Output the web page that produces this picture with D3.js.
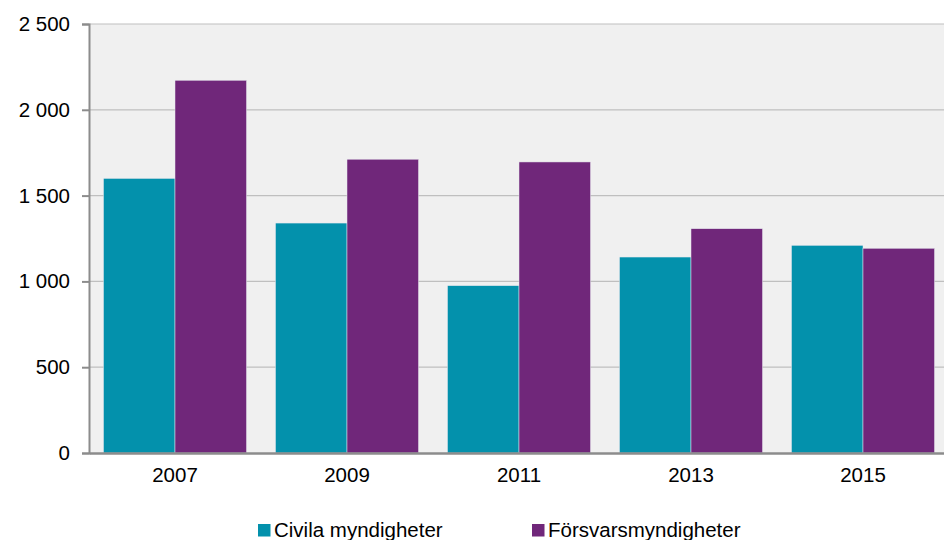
<!DOCTYPE html>
<html><head><meta charset="utf-8">
<script src="https://cdn.jsdelivr.net/npm/d3@7"></script>
<style>body{margin:0;background:#fff}svg{display:block}</style>
</head><body>
<svg id="c" width="944" height="540"></svg>
<script>
const years = ["2007","2009","2011","2013","2015"];
const seriesNames = ["Civila myndigheter","Försvarsmyndigheter"];
const civila = [1600, 1340, 975, 1142, 1210];
const forsvar = [2172, 1712, 1696, 1307, 1193];
const yTicks = [0,500,1000,1500,2000,2500];
const colors = ["#0391AC","#70277A"];

const FONT = "Liberation Sans, Arial, sans-serif";
const FS = 20.5;
const svg = d3.select("#c");
const L=89, T=24, W=860, H=429;
const x = d3.scaleBand().domain(years).range([L,L+W]).paddingInner(29/172).paddingOuter(14.5/172);
const xs = d3.scaleBand().domain(seriesNames).range([0,x.bandwidth()]);
const y = d3.scaleLinear().domain([0,2500]).range([T+H,T]);
const fmt = v => d3.format(",")(v).replace(/,/g," ");

svg.append("rect").attr("x",L).attr("y",T).attr("width",W).attr("height",H).attr("fill","#F0F0F0");
// grid
svg.append("g").selectAll("line").data(yTicks.filter(d=>d>0)).join("line")
  .attr("x1",L).attr("x2",L+W).attr("y1",d=>y(d)).attr("y2",d=>y(d))
  .attr("stroke","#BFBFBF").attr("stroke-width",1.2);

const data = years.map((yr,i)=>({yr, vals:[civila[i],forsvar[i]]}));
svg.append("g").selectAll("g").data(data).join("g")
  .attr("transform",d=>`translate(${x(d.yr)},0)`)
  .selectAll("rect").data(d=>d.vals.map((v,j)=>({v,j}))).join("rect")
  .attr("x",d=>xs(seriesNames[d.j])).attr("width",xs.bandwidth())
  .attr("y",d=>y(d.v)).attr("height",d=>y(0)-y(d.v))
  .attr("fill",d=>colors[d.j]).attr("stroke","#E6E6EE").attr("stroke-width",0.5);

// y axis
const ya = d3.axisLeft(y).tickValues(yTicks).tickFormat(fmt).tickSize(7).tickPadding(12);
const gy = svg.append("g").attr("transform",`translate(${L},0)`).call(ya);
gy.select(".domain").attr("stroke","#8C8C8C").attr("stroke-width",2);
gy.selectAll(".tick line").attr("stroke","#8C8C8C").attr("stroke-width",2);
gy.selectAll("text").attr("font-family",FONT).attr("font-size",FS).attr("fill","#000");

// x axis
const xa = d3.axisBottom(x).tickSize(0).tickPadding(14);
const gx = svg.append("g").attr("transform",`translate(0,${T+H})`).call(xa);
gx.select(".domain").attr("stroke","#8C8C8C").attr("stroke-width",2.5);
gx.selectAll("text").attr("font-family",FONT).attr("font-size",FS).attr("fill","#000");

// legend
const leg = svg.append("g");
const lx = [258, 532];
seriesNames.forEach((n,i)=>{
  leg.append("rect").attr("x",lx[i]).attr("y",524).attr("width",12.5).attr("height",12.5).attr("fill",colors[i]);
  leg.append("text").attr("x",lx[i]+16).attr("y",536.5).text(n)
    .attr("font-family",FONT).attr("font-size",FS).attr("fill","#000");
});
</script>
</body></html>
